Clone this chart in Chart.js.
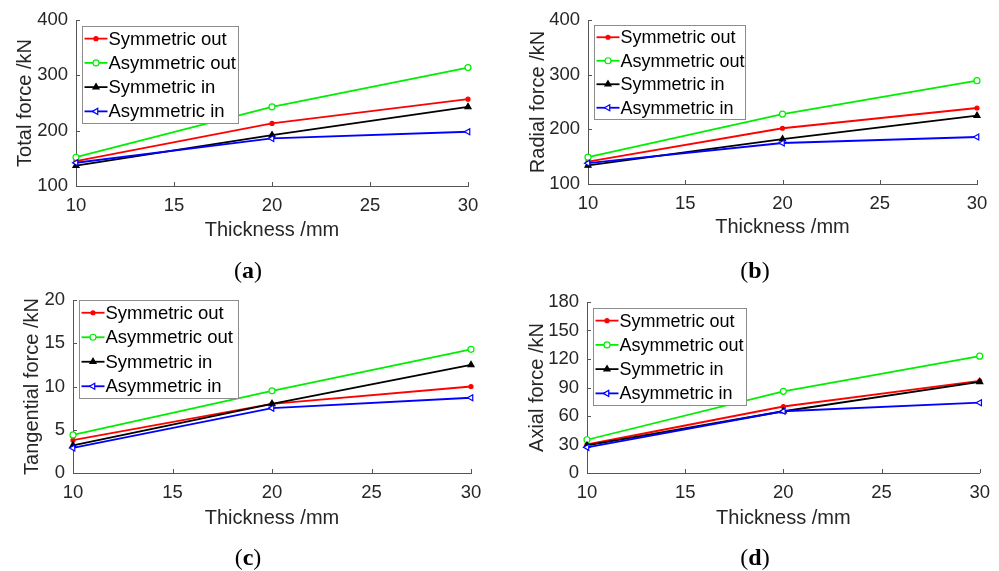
<!DOCTYPE html>
<html>
<head>
<meta charset="utf-8">
<script src="https://cdn.jsdelivr.net/npm/chart.js@4/dist/chart.umd.min.js"></script>
<style>
  html, body { margin: 0; padding: 0; background: #fff; }
  #wrap { position: relative; width: 999px; height: 571px; overflow: hidden; }
  canvas { position: absolute; }
  .cap { position: absolute; font-family: "Liberation Serif", "Times New Roman", serif; font-size: 24px; color: #000; transform: translate(-50%, -50%); white-space: nowrap; }
  .cap b { font-weight: bold; }
</style>
</head>
<body>
<div id="wrap">
  <canvas id="c0"></canvas>
  <canvas id="c1"></canvas>
  <canvas id="c2"></canvas>
  <canvas id="c3"></canvas>
  <div class="cap" style="left:248px;top:270px">(<b>a</b>)</div>
  <div class="cap" style="left:755px;top:270px">(<b>b</b>)</div>
  <div class="cap" style="left:248px;top:557px">(<b>c</b>)</div>
  <div class="cap" style="left:755px;top:557px">(<b>d</b>)</div>
</div>
<script>
// data
var thickness = [10, 20, 30];
var seriesNames = ['Symmetric out', 'Asymmetric out', 'Symmetric in', 'Asymmetric in'];

var totalSymOut = [145, 213, 257];
var totalAsymOut = [152, 243, 314];
var totalSymIn = [137, 192, 243];
var totalAsymIn = [142, 186, 198];

var radialSymOut = [141, 202, 239];
var radialAsymOut = [149, 228, 289];
var radialSymIn = [134, 182, 225];
var radialAsymIn = [138, 175, 186];

var tangSymOut = [3.8, 8.0, 10.0];
var tangAsymOut = [4.4, 9.5, 14.3];
var tangSymIn = [3.2, 8.0, 12.5];
var tangAsymIn = [2.9, 7.5, 8.7];

var axialSymOut = [30, 70, 97];
var axialAsymOut = [35, 86, 123];
var axialSymIn = [29, 65, 96];
var axialAsymIn = [27, 65, 74];

var xTicks = [10, 15, 20, 25, 30];
var totalTicks = [100, 200, 300, 400];
var radialTicks = [100, 200, 300, 400];
var tangTicks = [0, 5, 10, 15, 20];
var axialTicks = [0, 30, 60, 90, 120, 150, 180];

var axisColor = '#262626';

// marker styles per series (MATLAB look)
var seriesStyles = [
  {color: '#ff0000', pointStyle: 'circle', radius: 2, rotation: 0, fill: '#ff0000', order: 3},
  {color: '#00ee00', pointStyle: 'circle', radius: 3, rotation: 0, fill: '#ffffff', order: 2},
  {color: '#000000', pointStyle: 'triangle', radius: 3.5, rotation: 0, fill: '#000000', order: 1},
  {color: '#0000ff', pointStyle: 'triangle', radius: 3.5, rotation: -90, fill: '#ffffff', order: 0}
];

var panels = [
  {id: 'c0', yTitle: 'Total force /kN', series: [totalSymOut, totalAsymOut, totalSymIn, totalAsymIn], yTicks: totalTicks,
   box: {L: 76, R: 468, T: 20, B: 186, yTitleX: 25, xTitleY: 230, canvasLeft: 0},
   legend: {dx: 6, dy: 6, w: 156, h: 97, font: 18.5}},
  {id: 'c1', yTitle: 'Radial force /kN', series: [radialSymOut, radialAsymOut, radialSymIn, radialAsymIn], yTicks: radialTicks,
   box: {L: 588, R: 977, T: 20, B: 184, yTitleX: 538, xTitleY: 227, canvasLeft: 500},
   legend: {dx: 6, dy: 5, w: 151, h: 94, font: 18}},
  {id: 'c2', yTitle: 'Tangential force /kN', series: [tangSymOut, tangAsymOut, tangSymIn, tangAsymIn], yTicks: tangTicks,
   box: {L: 73, R: 471, T: 300, B: 473, yTitleX: 32, xTitleY: 518, canvasLeft: 0},
   legend: {dx: 6, dy: 0, w: 159, h: 98, font: 18.5}},
  {id: 'c3', yTitle: 'Axial force /kN', series: [axialSymOut, axialAsymOut, axialSymIn, axialAsymIn], yTicks: axialTicks,
   box: {L: 587, R: 980, T: 302, B: 473, yTitleX: 537, xTitleY: 518, canvasLeft: 500},
   legend: {dx: 6, dy: 6, w: 153, h: 97, font: 18}}
];

Chart.defaults.font.family = '"Liberation Sans", Arial, sans-serif';
Chart.defaults.color = axisColor;
Chart.defaults.animation = false;

function drawMarker(ctx, st, x, y) {
  var opts = {pointStyle: st.pointStyle, radius: st.radius, rotation: st.rotation, borderWidth: 1.2};
  ctx.save();
  ctx.strokeStyle = st.color;
  ctx.fillStyle = st.fill;
  ctx.lineWidth = 1.2;
  Chart.helpers.drawPoint(ctx, opts, x, y);
  ctx.restore();
}

// MATLAB-like inward ticks
var inwardTicks = {
  id: 'inwardTicks',
  afterDraw: function(chart) {
    var ctx = chart.ctx, area = chart.chartArea;
    var xs = chart.scales.x, ys = chart.scales.y;
    ctx.save();
    ctx.strokeStyle = '#555';
    ctx.lineWidth = 1;
    ctx.beginPath();
    xs.ticks.forEach(function(t) {
      var px = Math.round(xs.getPixelForValue(t.value)) + 0.5;
      ctx.moveTo(px, area.bottom);
      ctx.lineTo(px, area.bottom - 4);
    });
    ys.ticks.forEach(function(t) {
      var py = Math.round(ys.getPixelForValue(t.value)) + 0.5;
      ctx.moveTo(area.left, py);
      ctx.lineTo(area.left + 4, py);
    });
    ctx.stroke();
    ctx.restore();
  }
};

// boxed legend inside the axes, drawn over the lines
var boxLegend = {
  id: 'boxLegend',
  afterDatasetsDraw: function(chart, args, opts) {
    var ctx = chart.ctx, area = chart.chartArea;
    var x0 = Math.round(area.left + opts.dx) + 0.5;
    var y0 = Math.round(area.top + opts.dy) + 0.5;
    ctx.save();
    ctx.fillStyle = '#ffffff';
    ctx.strokeStyle = '#8c8c8c';
    ctx.lineWidth = 1;
    ctx.fillRect(x0, y0, opts.w, opts.h);
    ctx.strokeRect(x0, y0, opts.w, opts.h);
    var rowH = opts.h / 4;
    chart.data.datasets.forEach(function(ds, i) {
      var st = seriesStyles[i];
      var cy = y0 + rowH * (i + 0.5);
      ctx.strokeStyle = st.color;
      ctx.lineWidth = 1.8;
      ctx.beginPath();
      ctx.moveTo(x0 + 2, cy);
      ctx.lineTo(x0 + 25, cy);
      ctx.stroke();
      drawMarker(ctx, st, x0 + 13.5, cy);
      ctx.fillStyle = '#000';
      ctx.font = opts.font + 'px "Liberation Sans", Arial, sans-serif';
      ctx.textBaseline = 'middle';
      ctx.textAlign = 'left';
      ctx.fillText(ds.label, x0 + 26, cy + 1);
    });
    ctx.restore();
  }
};

panels.forEach(function(p) {
  var b = p.box;
  var canvasTop = b.T - 20;
  var canvasH = b.xTitleY + 14 - canvasTop;
  var canvasW = 499;
  var cv = document.getElementById(p.id);
  cv.style.left = b.canvasLeft + 'px';
  cv.style.top = canvasTop + 'px';
  cv.style.width = canvasW + 'px';
  cv.style.height = canvasH + 'px';
  cv.width = canvasW;
  cv.height = canvasH;

  var datasets = p.series.map(function(vals, i) {
    var st = seriesStyles[i];
    return {
      label: seriesNames[i],
      data: thickness.map(function(t, k) { return {x: t, y: vals[k]}; }),
      borderColor: st.color,
      backgroundColor: st.fill,
      borderWidth: 1.8,
      pointStyle: st.pointStyle,
      pointRadius: st.radius,
      pointRotation: st.rotation,
      pointBorderWidth: 1.2,
      pointBorderColor: st.color,
      pointBackgroundColor: st.fill,
      tension: 0,
      fill: false,
      clip: false,
      order: st.order
    };
  });

  var yt = p.yTicks;
  new Chart(cv.getContext('2d'), {
    type: 'line',
    data: {datasets: datasets},
    options: {
      responsive: false,
      maintainAspectRatio: false,
      layout: {padding: {top: 20, left: 0, right: b.canvasLeft + canvasW - b.R, bottom: 0}},
      plugins: {
        legend: {display: false},
        tooltip: {enabled: false},
        boxLegend: p.legend
      },
      scales: {
        x: {
          type: 'linear',
          min: xTicks[0],
          max: xTicks[xTicks.length - 1],
          afterBuildTicks: function(s) { s.ticks = xTicks.map(function(v) { return {value: v}; }); },
          afterFit: function(s) { s.height = canvasH - (b.B - canvasTop); },
          grid: {display: false, drawTicks: false},
          border: {display: true, color: '#555', width: 1},
          ticks: {font: {size: 18.5}, color: axisColor, padding: 9, maxRotation: 0},
          title: {display: true, text: 'Thickness /mm', color: axisColor,
                  font: {size: 20, lineHeight: 1.2}, padding: {top: 0, bottom: 2}}
        },
        y: {
          type: 'linear',
          min: yt[0],
          max: yt[yt.length - 1],
          afterBuildTicks: function(s) { s.ticks = yt.map(function(v) { return {value: v}; }); },
          afterFit: function(s) { s.width = b.L - b.canvasLeft; },
          grid: {display: false, drawTicks: false},
          border: {display: true, color: '#555', width: 1},
          ticks: {font: {size: 18.5}, color: axisColor, padding: 8},
          title: {display: true, text: p.yTitle, color: axisColor,
                  font: {size: 20, lineHeight: 1.2}, padding: {top: b.yTitleX - b.canvasLeft - 12, bottom: 0}}
        }
      }
    },
    plugins: [inwardTicks, boxLegend]
  });
});
</script>
</body>
</html>
